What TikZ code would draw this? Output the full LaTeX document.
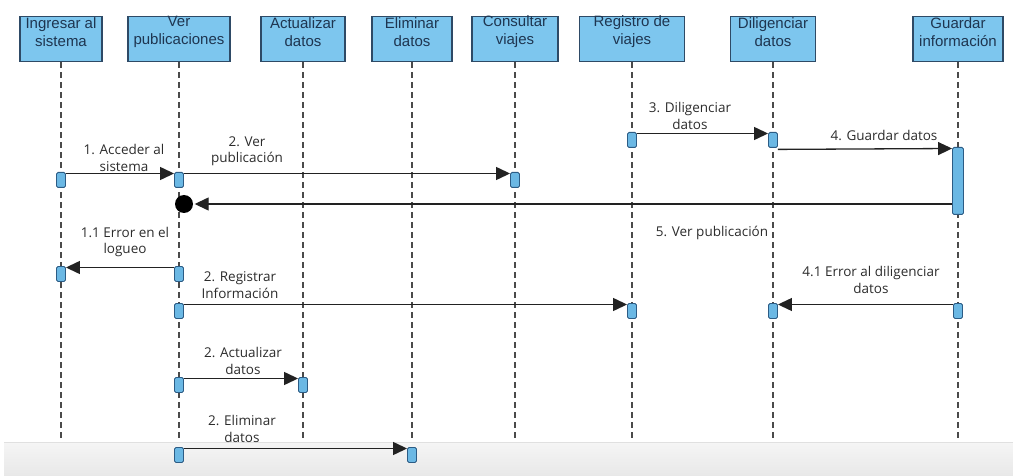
\documentclass[tikz,border=0pt]{standalone}
\usepackage{fontspec}
\setmainfont{Liberation Sans}
\newfontfamily\msgfont{Open Sans}
\usetikzlibrary{arrows.meta}
\definecolor{headfill}{HTML}{7DC6EE}
\definecolor{headdraw}{HTML}{2E4A66}
\definecolor{headtext}{HTML}{1E3550}
\definecolor{actfill}{HTML}{6BB8E4}
\definecolor{actdraw}{HTML}{2C5C85}
\definecolor{lifeline}{HTML}{4A4A4A}
\definecolor{msgline}{HTML}{222222}
\definecolor{msgtext}{HTML}{2C2C2C}
\definecolor{bandtop}{HTML}{F5F5F5}
\definecolor{bandbot}{HTML}{E8E8E8}

\begin{document}
\begin{tikzpicture}[x=1pt,y=-1pt,
  headbox/.style={draw=headdraw, line width=1.2pt, fill=headfill, minimum height=45pt, inner sep=0pt, anchor=north},
  headlabel/.style={align=center, text=headtext, font=\fontsize{15}{18}\selectfont, inner sep=0pt},
  lifeln/.style={draw=lifeline, line width=1.3pt, dash pattern=on 6pt off 4pt},
  act/.style={draw=actdraw, fill=actfill, line width=0.9pt, minimum width=9pt, minimum height=15pt, inner sep=0pt, rounded corners=1.5pt, anchor=north},
  msg/.style={draw=msgline, line width=1.3pt, -{Triangle[length=14pt,width=13pt]}},
  msglabel/.style={align=center, text=msgtext, font=\msgfont\fontsize{13.5}{16.5}\selectfont, inner sep=0pt}
]
\useasboundingbox (0,0) rectangle (1013,476);
\fill[white] (0,0) rectangle (1013,476);

% lifeline heads
\node[headbox, minimum width=82pt]  (h1) at (61,16)  {};
\node[headbox, minimum width=102pt] (h2) at (179,16) {};
\node[headbox, minimum width=84pt]  (h3) at (303,16) {};
\node[headbox, minimum width=80pt]  (h4) at (412,16) {};
\node[headbox, minimum width=86pt]  (h5) at (515,16) {};
\node[headbox, minimum width=105pt] (h6) at (632,16) {};
\node[headbox, minimum width=85pt]  (h7) at (773,16) {};
\node[headbox, minimum width=90pt]  (h8) at (958,16) {};

\node[headlabel] (t1) at (61,32)  {Ingresar al\\sistema};
\node[headlabel] (t2) at (179,32) {Ver\\publicaciones};
\node[headlabel] (t3) at (303,32) {Actualizar\\datos};
\node[headlabel] (t4) at (412,32) {Eliminar\\datos};
\node[headlabel] (t5) at (515,32) {Consultar\\viajes};
\node[headlabel] (t6) at (632,32) {Registro de\\viajes};
\node[headlabel] (t7) at (773,32) {Diligenciar\\datos};
\node[headlabel] (t8) at (958,32) {Guardar\\información};

% lifelines
\foreach \i/\x in {1/61,2/179,3/303,4/412,5/515,6/632,7/773,8/958}
  \coordinate (e\i) at (\x,447);
\foreach \i in {1,...,8}
  \draw[lifeln] (h\i.south) -- (e\i);

% bottom band
\shade[top color=bandtop, bottom color=bandbot] (4,442) rectangle (1013,476);
\draw[white!88!black, line width=0.6pt] (4,442) -- (1013,442);

% activations
\node[act] (a1)  at (61,172)  {};
\node[act] (a2)  at (179,172) {};
\node[act] (a3)  at (515,172) {};
\node[act] (a4)  at (632,132) {};
\node[act] (a5)  at (773,132) {};
\node[act, minimum width=11pt, minimum height=67pt] (a6) at (958,147) {};
\node[act] (a7)  at (179,266) {};
\node[act] (a8)  at (61,266)  {};
\node[act] (a9)  at (179,303) {};
\node[act] (a10) at (632,303) {};
\node[act] (a11) at (773,303) {};
\node[act] (a12) at (958,303) {};
\node[act] (a13) at (179,377) {};
\node[act] (a14) at (303,377) {};
\node[act] (a15) at (179,447) {};
\node[act] (a16) at (412,447) {};

% lost message end
\node[circle, fill=black, minimum size=18pt, inner sep=0pt] (c5) at (184,204) {};

% messages
\draw[msg] ([yshift=-1.5pt]a1.north east) -- ([yshift=-1.5pt]a2.north west);
\draw[msg] ([yshift=-1.5pt]a2.north east) -- ([yshift=-1.5pt]a3.north west);
\draw[msg] ([yshift=-1.5pt]a4.north east) -- ([yshift=-1.5pt]a5.north west);
\draw[msg] ([yshift=-1.5pt]a5.south east) -- ([yshift=-1.5pt]a6.north west);
\draw[msg, shorten >=1.5pt] (a6.west |- c5) -- (c5.east);
\draw[msg] ([yshift=-1.5pt]a7.north west) -- ([yshift=-1.5pt]a8.north east);
\draw[msg] ([yshift=-1.5pt]a9.north east) -- ([yshift=-1.5pt]a10.north west);
\draw[msg] ([yshift=-1.5pt]a12.north west) -- ([yshift=-1.5pt]a11.north east);
\draw[msg] ([yshift=-1.5pt]a13.north east) -- ([yshift=-1.5pt]a14.north west);
\draw[msg] ([yshift=-1.5pt]a15.north east) -- ([yshift=-1.5pt]a16.north west);

% message labels
\node[msglabel] (l1)  at (124,158) {1. Acceder al\\sistema};
\node[msglabel] (l2)  at (247,151) {2. Ver\\publicación};
\node[msglabel] (l3)  at (690,116) {3. Diligenciar\\datos};
\node[msglabel] (l4)  at (884,135) {4. Guardar datos};
\node[msglabel] (l5)  at (712,233) {5. Ver publicación};
\node[msglabel] (l11) at (125,242) {1.1 Error en el\\logueo};
\node[msglabel] (l6)  at (240,285) {2. Registrar\\Información};
\node[msglabel] (l41) at (871,280) {4.1 Error al diligenciar\\datos};
\node[msglabel] (l7)  at (243,361) {2. Actualizar\\datos};
\node[msglabel] (l8)  at (242,429) {2. Eliminar\\datos};
\end{tikzpicture}
\end{document}
